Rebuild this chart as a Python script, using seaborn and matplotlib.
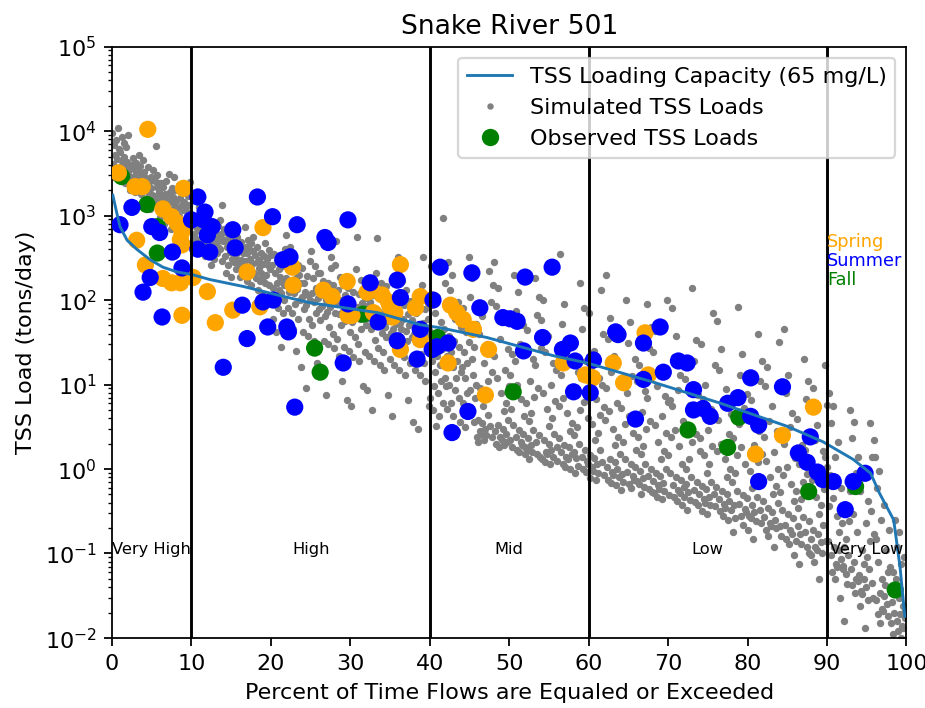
import matplotlib
matplotlib.use("Agg")
import matplotlib.pyplot as plt
from matplotlib.lines import Line2D
import seaborn as sns
import pandas as pd

# ---------------- data ----------------
# TSS loading capacity curve (65 mg/L)
cap_pct = [0.1, 0.6, 1.0, 1.9, 3.1, 4.8, 6.4, 8.2, 10.1, 12.3, 16.5, 20.8, 24.9, 33.4,
           38.8, 41.3, 47.2, 55.5, 59.8, 68.1, 76.6, 85.0, 89.5, 93.3, 95.5, 96.6,
           98.4, 99.2, 99.8]
cap_load = [1740, 1070, 740, 510, 400, 300, 245, 215, 200, 175, 145, 115, 93, 71,
            51, 47, 36, 22, 18, 10.7, 6.0, 3.2, 2.1, 1.3, 0.89, 0.52,
            0.25, 0.069, 0.018]

# Simulated TSS loads (tons/day), grouped in 2 % flow-exceedance bins
sim_bin_width = 2
sim_bins = [
    [9600, 4100, 6800, 2900, 5200, 7900, 3500, 4700, 11000, 3100, 6100, 3800, 5600, 2600, 8600, 4400, 3300, 7200, 5000, 2400, 3900, 6500, 4300, 9100],
    [4800, 2300, 3600, 1900, 3100, 4200, 2600, 3400, 2100, 5200, 2800, 3900, 1800, 3000, 2500, 4500, 2200, 3300, 2700, 3700, 2000, 2900, 4000, 2400],
    [3500, 1700, 2600, 1400, 6600, 2200, 3000, 1500, 2400, 1900, 3300, 1300, 2000, 2800, 1600, 2300, 3800, 1800, 2500, 1200, 2100, 2900, 1750, 2700],
    [2900, 1300, 2000, 950, 1700, 2400, 1100, 1500, 2200, 800, 1800, 1250, 2600, 1000, 1600, 1400, 3100, 1150, 1900, 700, 1450, 2100, 1200, 1650],
    [2300, 1000, 1600, 700, 1300, 1900, 850, 1150, 1450, 600, 1250, 2000, 900, 1100, 1700, 750, 1350, 950, 2500, 800, 1200, 1050, 1550, 650],
    [1250, 520, 800, 380, 950, 640, 1100, 450, 700, 330, 880, 580, 760, 490, 1000, 410, 610, 850, 550, 360, 730, 470, 920, 670],
    [880, 400, 610, 290, 1350, 500, 720, 340, 560, 430, 800, 260, 470, 650, 380, 540, 310, 700, 450, 590, 360, 760, 420, 520],
    [700, 330, 500, 210, 420, 600, 260, 460, 370, 540, 190, 310, 440, 650, 280, 390, 480, 230, 350, 560, 300, 410, 250, 520],
    [740, 290, 430, 170, 360, 520, 230, 400, 310, 470, 150, 270, 380, 560, 210, 340, 440, 190, 300, 490, 250, 360, 200, 410],
    [480, 200, 310, 110, 260, 390, 150, 230, 340, 90, 180, 280, 420, 130, 240, 300, 170, 360, 210, 120, 270, 190, 330, 160],
    [590, 180, 95, 260, 60, 140, 350, 110, 210, 42, 160, 300, 80, 230, 130, 190, 28, 120, 250, 70, 170, 100, 150, 400],
    [420, 150, 70, 220, 45, 120, 300, 90, 180, 25, 135, 260, 60, 200, 100, 160, 16, 110, 240, 52, 145, 80, 125, 340],
    [380, 120, 50, 180, 33, 95, 250, 70, 140, 18, 105, 210, 42, 160, 78, 125, 9, 88, 195, 38, 115, 60, 100, 290],
    [320, 100, 40, 150, 27, 78, 210, 58, 115, 13, 85, 170, 33, 130, 64, 100, 7.5, 72, 160, 30, 92, 48, 82, 240],
    [500, 90, 35, 130, 22, 68, 190, 50, 100, 11, 75, 150, 28, 115, 56, 88, 6.5, 62, 140, 25, 80, 42, 70, 260],
    [560, 82, 30, 118, 19, 60, 175, 45, 92, 9.5, 68, 135, 24, 105, 50, 80, 5.5, 55, 125, 21, 72, 37, 63, 230],
    [550, 75, 27, 108, 17, 54, 160, 41, 84, 8.5, 62, 122, 22, 96, 45, 72, 5, 50, 115, 19, 66, 34, 57, 210],
    [320, 68, 24, 98, 15, 48, 145, 37, 76, 7.5, 56, 110, 20, 88, 41, 65, 4.2, 45, 104, 17, 60, 30, 52, 190],
    [280, 60, 21, 88, 13, 43, 130, 33, 68, 6.5, 50, 98, 18, 78, 37, 58, 3.6, 40, 93, 15, 54, 27, 46, 170],
    [320, 54, 18, 78, 11, 38, 115, 29, 60, 5.5, 44, 88, 15, 70, 32, 51, 3, 35, 82, 13, 48, 23, 40, 150],
    [930, 45, 12, 160, 7, 28, 250, 19, 5, 38, 9.5, 70, 14, 3.2, 22, 110, 8, 32, 4.2, 17, 55, 11, 26, 6],
    [280, 38, 10, 130, 6, 24, 200, 16, 4.2, 33, 8.5, 60, 12, 2.8, 19, 95, 7, 28, 3.6, 14, 48, 9.5, 22, 5.2],
    [320, 32, 8.5, 110, 5, 20, 180, 13, 3.6, 28, 7, 52, 10, 2.4, 16, 80, 6, 24, 3.1, 12, 42, 8, 18, 4.4],
    [220, 26, 3.2, 95, 2.4, 14, 150, 3.8, 2.1, 40, 2.8, 9, 2.6, 65, 3.5, 5.5, 2.2, 18, 3, 7, 2.5, 30, 4.4, 11],
    [280, 22, 2.8, 85, 2.0, 12, 140, 3.3, 1.8, 35, 2.4, 8, 2.2, 58, 3, 4.8, 1.9, 15, 2.6, 6, 2.1, 26, 3.8, 9.5],
    [200, 19, 2.4, 75, 1.7, 10, 125, 2.9, 1.6, 30, 2.1, 6.8, 1.9, 50, 2.6, 4.2, 1.5, 13, 2.2, 5.2, 1.8, 23, 3.3, 8.2],
    [180, 17, 2.1, 66, 1.5, 9, 110, 2.5, 1.4, 27, 1.8, 6, 1.7, 44, 2.3, 3.7, 1.3, 11, 1.9, 4.6, 1.6, 20, 2.9, 7.2],
    [240, 15, 1.8, 58, 1.3, 8, 100, 2.2, 1.2, 24, 1.6, 5.2, 1.5, 38, 2, 3.2, 1.15, 10, 1.7, 4, 1.4, 18, 2.6, 6.4],
    [350, 13, 1.6, 52, 1.15, 7, 90, 1.9, 1.05, 21, 1.4, 4.6, 1.3, 33, 1.8, 2.8, 1.0, 8.8, 1.5, 3.5, 1.25, 16, 2.3, 5.6],
    [160, 12, 1.4, 46, 1.0, 6.2, 80, 1.7, 0.92, 19, 1.25, 4, 1.15, 29, 1.6, 2.5, 0.9, 7.8, 1.35, 3.1, 1.1, 14, 2.0, 5],
    [130, 10, 1.2, 40, 0.85, 5.4, 70, 1.45, 0.78, 16, 1.05, 3.4, 0.95, 25, 1.35, 2.2, 0.74, 6.8, 1.15, 2.7, 0.9, 12, 1.7, 4.3],
    [200, 9, 1.05, 35, 0.75, 4.8, 62, 1.3, 0.68, 14, 0.92, 3, 0.85, 22, 1.2, 1.9, 0.64, 6, 1.0, 2.4, 0.8, 11, 1.5, 3.8],
    [100, 8, 0.92, 31, 0.66, 4.2, 55, 1.15, 0.6, 12.5, 0.82, 2.7, 0.75, 20, 1.05, 1.7, 0.56, 5.3, 0.88, 2.1, 0.7, 9.5, 1.3, 3.4],
    [90, 7, 0.82, 27, 0.58, 3.7, 48, 1.0, 0.53, 11, 0.72, 2.4, 0.66, 17, 0.94, 1.5, 0.5, 4.7, 0.78, 1.85, 0.62, 8.4, 1.15, 3.0],
    [100, 6.2, 0.72, 24, 0.52, 3.3, 43, 0.9, 0.47, 9.5, 0.64, 2.1, 0.58, 15, 0.83, 1.3, 0.44, 4.2, 0.69, 1.65, 0.55, 7.4, 1.0, 2.7],
    [80, 5.5, 0.64, 21, 0.46, 2.9, 38, 0.8, 0.42, 8.5, 0.57, 1.85, 0.52, 13, 0.74, 1.15, 0.38, 3.7, 0.61, 1.45, 0.49, 6.5, 0.9, 2.4],
    [140, 4.9, 0.57, 19, 0.41, 2.6, 34, 0.71, 0.37, 7.6, 0.5, 1.65, 0.46, 11.5, 0.66, 1.0, 0.33, 3.3, 0.54, 1.3, 0.43, 5.8, 0.8, 2.1],
    [70, 4.3, 0.5, 17, 0.36, 2.3, 30, 0.63, 0.32, 6.8, 0.44, 1.45, 0.4, 10, 0.58, 0.9, 0.29, 2.9, 0.47, 1.15, 0.38, 5.1, 0.7, 1.85],
    [56, 3.8, 0.44, 15, 0.32, 2.0, 26, 0.55, 0.28, 6, 0.39, 1.3, 0.35, 8.8, 0.51, 0.8, 0.25, 2.6, 0.42, 1.0, 0.33, 4.5, 0.62, 1.65],
    [83, 3.4, 0.39, 13, 0.28, 1.8, 23, 0.49, 0.22, 5.3, 0.34, 1.15, 0.31, 7.8, 0.45, 0.7, 0.18, 2.3, 0.37, 0.9, 0.26, 4, 0.55, 1.45],
    [40, 2.8, 0.33, 11, 0.23, 1.5, 19, 0.42, 0.19, 4.4, 0.28, 0.95, 0.26, 6.5, 0.38, 0.6, 0.15, 1.9, 0.31, 0.75, 0.24, 3.3, 0.47, 1.2],
    [32, 2.4, 0.27, 9.5, 0.19, 1.25, 16, 0.35, 0.16, 3.7, 0.23, 0.8, 0.21, 5.5, 0.31, 0.5, 0.12, 1.6, 0.25, 0.63, 0.2, 2.8, 0.4, 1.0],
    [45, 2.0, 0.22, 8, 0.15, 1.05, 13, 0.29, 0.13, 3.1, 0.19, 0.66, 0.17, 4.6, 0.26, 0.42, 0.095, 1.35, 0.21, 0.53, 0.16, 2.3, 0.33, 0.85],
    [20, 1.7, 0.18, 6.8, 0.12, 0.88, 11, 0.24, 0.1, 2.6, 0.15, 0.55, 0.14, 3.9, 0.21, 0.35, 0.075, 1.15, 0.17, 0.44, 0.13, 1.95, 0.27, 0.7],
    [17, 1.4, 0.14, 5.7, 0.095, 0.74, 9, 0.19, 0.08, 2.2, 0.12, 0.46, 0.11, 3.3, 0.17, 0.29, 0.05, 0.95, 0.135, 0.37, 0.1, 1.65, 0.22, 0.58],
    [7.9, 0.85, 0.095, 3.5, 0.06, 0.45, 5.5, 0.12, 0.05, 1.4, 0.075, 0.28, 0.07, 2.1, 0.11, 0.18, 0.03, 0.6, 0.085, 0.23, 0.065, 1.05, 0.14, 0.36],
    [5, 0.55, 0.065, 2.3, 0.042, 0.29, 3.6, 0.08, 0.034, 0.9, 0.05, 0.18, 0.047, 1.4, 0.072, 0.12, 0.016, 0.38, 0.057, 0.15, 0.044, 0.7, 0.095, 0.24],
    [3.5, 0.32, 0.045, 1.4, 0.03, 0.17, 2.2, 0.055, 0.024, 0.55, 0.036, 0.11, 0.033, 0.85, 0.05, 0.075, 0.013, 0.23, 0.04, 0.09, 0.028, 0.42, 0.065, 0.14],
    [1.4, 0.15, 0.028, 0.6, 0.019, 0.08, 0.95, 0.034, 0.015, 0.25, 0.022, 0.05, 0.021, 0.38, 0.031, 0.042, 0.009, 0.11, 0.025, 0.06, 0.018, 0.19, 0.038, 0.07],
    [0.25, 0.05, 0.016, 0.12, 0.012, 0.03, 0.18, 0.019, 0.01, 0.075, 0.014, 0.024, 0.013, 0.09, 0.017, 0.021, 0.006, 0.04, 0.015, 0.027, 0.011, 0.06, 0.02, 0.035],
]

# Observed TSS loads by season
fall_pct = [1.2, 4.4, 5.7, 5.7, 25.5, 26.2, 31.6, 41.0, 50.5, 72.5, 77.5, 78.9, 87.7, 93.6, 98.6]
fall_load = [2900, 1350, 740, 360, 27, 14, 68, 36, 8.2, 2.9, 1.8, 4.1, 0.54, 0.62, 0.037]

spring_pct = [4.5, 0.8, 2.9, 3.8, 9.0, 6.4, 7.5, 8.2, 8.8, 8.6, 3.1, 8.8, 4.2, 6.4, 7.5,
              8.6, 8.8, 10.2, 12.0, 13.0, 15.2, 17.0, 18.6, 19.0, 22.7, 22.8, 26.6, 27.7,
              29.6, 29.7, 30.2, 32.1, 32.7, 32.9, 34.0, 34.8, 35.0, 35.6, 35.3, 36.3, 36.3,
              38.2, 38.8, 38.8, 40.3, 42.6, 43.4, 44.2, 45.5, 42.3, 47.4, 47.0, 56.8, 59.6,
              60.5, 63.1, 64.4, 67.1, 67.5, 81.0, 84.4, 88.3]
spring_load = [10500, 3200, 2200, 2200, 2100, 1200, 970, 820, 650, 520, 510, 450, 260, 180, 160,
               160, 66, 185, 126, 54, 76, 215, 83, 720, 245, 150, 131, 110,
               166, 66, 66, 124, 132, 71, 115, 95, 83, 71, 63, 263, 26,
               81, 110, 34, 100, 87, 71, 59, 45, 18, 26, 7.5, 18, 13,
               12, 18, 10.5, 41, 13, 1.5, 2.5, 5.4]

summer_pct = [1.0, 2.5, 5.0, 6.0, 7.6, 8.8, 4.8, 3.9, 6.3, 10.0, 10.8, 11.7, 11.5, 12.6, 12.0,
              10.8, 12.3, 15.2, 15.5, 16.4, 14.0, 17.0, 18.3, 19.0, 19.6, 20.2, 20.3, 21.5,
              22.4, 22.0, 22.2, 23.0, 23.3, 26.8, 27.2, 29.1, 29.7, 29.7, 32.5, 33.5, 35.9,
              36.3, 35.9, 38.4, 38.8, 40.3, 40.4, 40.9, 42.3, 41.3, 45.3, 46.3, 44.8, 42.8,
              49.2, 50.1, 51.0, 51.8, 52.0, 54.2, 55.4, 56.7, 57.7, 58.3, 58.1, 60.2, 60.6,
              63.4, 63.7, 66.9, 69.0, 66.9, 69.4, 65.9, 71.3, 72.4, 73.2, 73.2, 74.4, 75.3,
              77.5, 78.8, 80.4, 81.4, 80.4, 81.4, 84.4, 87.9, 86.4, 87.5, 88.8, 89.5, 90.8,
              93.3, 94.8, 92.3]
summer_load = [780, 1250, 740, 630, 370, 240, 185, 124, 63, 890, 1660, 1100, 890, 740, 590,
               400, 370, 680, 415, 87, 16, 35, 1660, 95, 48, 970, 100, 300,
               325, 48, 42, 5.4, 780, 550, 480, 18, 890, 90, 160, 55, 172,
               107, 33, 20, 45, 26, 100, 28, 31, 245, 210, 81, 4.8, 2.7,
               62, 60, 56, 25, 187, 36, 245, 26, 31, 19, 8.2, 8, 19.5,
               42, 39, 31, 48, 11.5, 14, 3.9, 19, 18, 8.7, 5, 5.2, 4.2,
               6, 7, 4.2, 3.3, 12, 0.71, 9.4, 2.4, 1.55, 1.2, 0.92, 0.75, 0.71,
               0.71, 0.89, 0.33]

season_colors = {"Fall": "green", "Spring": "orange", "Summer": "blue"}
flow_zones = [10, 40, 60, 90]
zone_labels = ["Very High", "High", "Mid", "Low", "Very Low"]
zone_label_pct = [5, 25, 50, 75, 95]

# ---------------- tables ----------------
sim_x, sim_y = [], []
for b, vals in enumerate(sim_bins):
    n = len(vals)
    for k, v in enumerate(vals):
        slot = (k + 7 * b) % n
        sim_x.append(b * sim_bin_width + sim_bin_width * (slot + 0.5) / n)
        sim_y.append(v)
sim = pd.DataFrame({"pct": sim_x, "load": sim_y})

obs = pd.concat([
    pd.DataFrame({"pct": fall_pct, "load": fall_load, "season": "Fall"}),
    pd.DataFrame({"pct": spring_pct, "load": spring_load, "season": "Spring"}),
    pd.DataFrame({"pct": summer_pct, "load": summer_load, "season": "Summer"}),
], ignore_index=True)

# ---------------- figure ----------------
DPI = 160
fig = plt.figure(figsize=(925.4 / DPI, 708.4 / DPI), dpi=DPI)
ax = fig.add_axes([112 / 925, 1 - 638 / 708, (906 - 112) / 925, (638 - 47) / 708])

sns.lineplot(x=cap_pct, y=cap_load, ax=ax, color="#1f77b4", linewidth=1.3,
             sort=False, estimator=None, zorder=4)
sns.scatterplot(data=sim, x="pct", y="load", ax=ax, color="gray", s=11,
                linewidth=0, zorder=2)
sns.scatterplot(data=obs, x="pct", y="load", hue="season", palette=season_colors,
                ax=ax, s=60, linewidth=0, legend=False, zorder=3)

for z in flow_zones:
    ax.axvline(z, color="black", linewidth=1.3, zorder=5)

ax.set_yscale("log")
ax.set_xlim(0, 100)
ax.set_ylim(1e-2, 1e5)
ax.set_xticks(range(0, 101, 10))

for lab, p in zip(zone_labels, zone_label_pct):
    ax.text(p, 0.1, lab, ha="center", va="baseline", fontsize=7.3, zorder=6)

ax.text(90, 430, "Spring", color="orange", fontsize=8, va="baseline", zorder=6)
ax.text(90, 255, "Summer", color="blue", fontsize=8, va="baseline", zorder=6)
ax.text(90, 152, "Fall", color="green", fontsize=8, va="baseline", zorder=6)

ax.set_title("Snake River 501", fontsize=12)
ax.set_xlabel("Percent of Time Flows are Equaled or Exceeded")
ax.set_ylabel("TSS Load (tons/day)")

handles = [
    Line2D([], [], color="#1f77b4", linewidth=1.3),
    Line2D([], [], linestyle="none", marker="o", markersize=2.9, color="gray", markeredgewidth=0),
    Line2D([], [], linestyle="none", marker="o", markersize=7.8, color="green", markeredgewidth=0),
]
ax.legend(handles, ["TSS Loading Capacity (65 mg/L)", "Simulated TSS Loads", "Observed TSS Loads"],
          loc="upper right")

fig.savefig("out.png", dpi=DPI)
